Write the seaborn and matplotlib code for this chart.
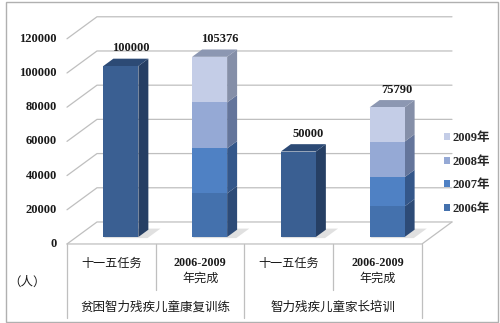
import numpy as np
import pandas as pd
import matplotlib
matplotlib.use('Agg')
import matplotlib.pyplot as plt
import seaborn as sns
from matplotlib.patches import Patch, Rectangle

# ---------------- data ----------------
bar_ids = ['A', 'B', 'C', 'D']
categories = ['十一五任务', '2006-2009\n年完成', '十一五任务', '2006-2009\n年完成']
groups = ['贫困智力残疾儿童康复训练', '智力残疾儿童家长培训']
task_values = [100000, None, 50000, None]
years = ['2006年', '2007年', '2008年', '2009年']
v2006 = [None, 25500, None, 17900]
v2007 = [None, 26300, None, 17100]
v2008 = [None, 26900, None, 20800]
v2009 = [None, 26676, None, 19990]
total_labels = [100000, 105376, 50000, 75790]
yticks = [0, 20000, 40000, 60000, 80000, 100000, 120000]
unit_label = '（人）'

# ---------------- styles ----------------
task_colors = dict(front='#3A5F92', side='#263F64', top='#2C4A75')
year_front = ['#4471AD', '#4F81C4', '#95A9D5', '#C4CDE7']
year_side = ['#2D4B77', '#34578A', '#64759B', '#858FA8']
year_top = '#8C97B2'
grid_color = '#BFBFBF'

sns.set_theme(style='white')
plt.rcParams['font.family'] = ['Liberation Serif', 'Noto Sans CJK SC', 'DejaVu Sans']
CJK = ['Noto Sans CJK SC', 'DejaVu Sans']
NUM = ['Liberation Serif', 'Noto Sans CJK SC']

W, H = 500, 323
fig = plt.figure(figsize=(W / 100, H / 100), dpi=100)
ax = fig.add_axes([0, 0, 1, 1])
ax.set_axis_off()

cat_px = 88.75
x0_px = 76.5
y0_px = 86.0
vs = 0.00171
KX = 30 / cat_px
KY = 22 / vs
dF, dB = -0.317, 0.683
D = 0.333
bw = 35 / cat_px


def P(x, v, d):
    return x + d * KX, v + d * KY


def v_of(py_top):
    return ((H - py_top) - y0_px) / vs


def x_of(px):
    return (px - x0_px) / cat_px - 0.5


# ---------------- walls / grid ----------------
for v in yticks:
    xa, ya = P(-0.5, v, dF)
    xb, yb = P(-0.5, v, dB)
    xc, yc = P(3.5, v, dB)
    ax.plot([xa, xb, xc], [ya, yb, yc], color=grid_color, lw=0.9, zorder=1)
    ax.text(xa - 10 / cat_px, ya, f'{v}', ha='right', va='center',
            fontsize=9, fontweight='bold', family=NUM, color='#1a1a1a')
fa = P(-0.5, 0, dF); fb = P(3.5, 0, dF); fc = P(3.5, 0, dB)
ax.plot([fa[0], fb[0], fc[0]], [fa[1], fb[1], fc[1]], color=grid_color, lw=0.9, zorder=1)

# ---------------- bars (front faces via seaborn) ----------------
df_task = pd.DataFrame({'id': bar_ids, 'value': task_values}).dropna()
sns.barplot(data=df_task, x='id', y='value', order=bar_ids, color=task_colors['front'],
            saturation=1, width=bw, errorbar=None, ax=ax, zorder=3, linewidth=0)

layers = [v2006, v2007, v2008, v2009]
stack = pd.DataFrame({y: l for y, l in zip(years, layers)}, index=bar_ids).astype(float)
cum = stack.cumsum(axis=1)
for i in range(len(years) - 1, -1, -1):
    d = pd.DataFrame({'id': bar_ids, 'value': cum[years[i]].values}).dropna()
    sns.barplot(data=d, x='id', y='value', order=bar_ids, color=year_front[i],
                saturation=1, width=bw, errorbar=None, ax=ax, zorder=3, linewidth=0)


def side_top(c, b, t, side_col, top_col=None):
    xr = c + bw / 2
    pts = [P(xr, b, 0), P(xr, t, 0), P(xr, t, D), P(xr, b, D)]
    ax.fill([p[0] for p in pts], [p[1] for p in pts], color=side_col, lw=0, zorder=2.9)
    if top_col:
        pts = [P(c - bw / 2, t, 0), P(xr, t, 0), P(xr, t, D), P(c - bw / 2, t, D)]
        ax.fill([p[0] for p in pts], [p[1] for p in pts], color=top_col, lw=0, zorder=2.9)


def shadow(c):
    pts = [P(c - bw / 2 + 0.02, 0, -0.05), P(c + bw / 2 + 0.12, 0, -0.05),
           P(c + bw / 2 + 0.12, 0, D + 0.05), P(c - bw / 2 + 0.02, 0, D + 0.05)]
    ax.fill([p[0] for p in pts], [p[1] for p in pts], color='#D9D9D9', lw=0, zorder=2, alpha=0.8)


for k, bid in enumerate(bar_ids):
    shadow(k)
    if task_values[k] is not None:
        side_top(k, 0, task_values[k], task_colors['side'], task_colors['top'])
    else:
        b = 0
        for i, y in enumerate(years):
            t = cum.loc[bid, y]
            side_top(k, b, t, year_side[i], year_top if i == len(years) - 1 else None)
            b = t
    top = task_values[k] if task_values[k] is not None else cum.loc[bid, years[-1]]
    lx, ly = P(k, top, D / 2)
    ax.text(lx + 5 / cat_px, ly + 14 / vs, f'{total_labels[k]}', ha='center', va='center',
            fontsize=9, family=NUM, fontweight='bold', color='#1a1a1a')

# ---------------- category table ----------------
bounds = [-0.5, 0.5, 1.5, 2.5, 3.5]
for j, bx in enumerate(bounds):
    xa, ya = P(bx, 0, dF)
    bottom = v_of(318) if j % 2 == 0 else v_of(290)
    ax.plot([xa, xa], [ya, bottom], color=grid_color, lw=0.9, zorder=1)
for k, lab in enumerate(categories):
    xa, _ = P(k, 0, dF)
    for li, line in enumerate(lab.split('\n')):
        is_num = any(ch.isdigit() for ch in line)
        ax.text(xa, v_of(263 + li * 15.5), line, ha='center', va='center', fontsize=8.7,
                family=NUM if is_num else CJK, fontweight='bold' if is_num else 'normal',
                color='#1a1a1a')
for g, lab in enumerate(groups):
    xa, _ = P(2 * g + 0.5, 0, dF)
    ax.text(xa, v_of(307), lab, ha='center', va='center', fontsize=9,
            family=CJK, color='#1a1a1a')
ax.text(x_of(27), v_of(282), unit_label, ha='center', va='center', fontsize=9,
        family=CJK, color='#1a1a1a')

# ---------------- legend ----------------
handles = [Patch(facecolor=year_front[i], edgecolor='none') for i in range(3, -1, -1)]
labels = [years[i] for i in range(3, -1, -1)]
leg = ax.legend(handles, labels, loc='upper left', bbox_to_anchor=(444 / W, 1 - 132 / H),
                bbox_transform=fig.transFigure, frameon=False,
                handlelength=0.45, handleheight=0.45, handletextpad=0.25,
                labelspacing=0.93, borderpad=0, borderaxespad=0,
                prop=dict(family=NUM, weight='bold', size=9))

ax.set_xlim(x_of(0), x_of(W))
ax.set_ylim(v_of(H), v_of(0))

fig.patches.append(Rectangle((6 / W, 1 / H), 492 / W, 320 / H, transform=fig.transFigure,
                             fill=False, edgecolor='#B0B0B0', lw=1))
fig.savefig('out.png', dpi=100)
